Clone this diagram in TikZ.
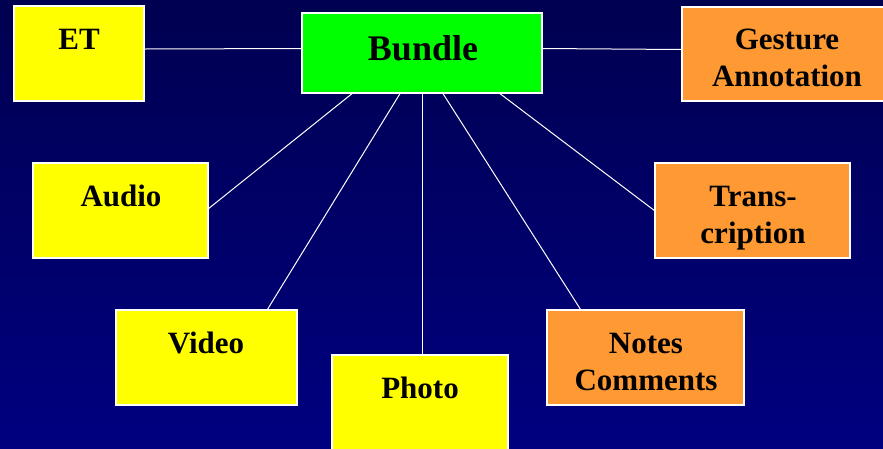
\documentclass[tikz,border=0pt]{standalone}
\usepackage{fontspec}
\setmainfont{Liberation Serif}
\definecolor{bgtop}{RGB}{0,0,80}
\definecolor{bgbottom}{RGB}{0,0,128}
\definecolor{mediayellow}{RGB}{255,255,0}
\definecolor{bundlegreen}{RGB}{0,255,0}
\definecolor{annotorange}{RGB}{255,153,51}
\tikzset{
  box/.style={draw=white, line width=1.3pt, inner sep=0pt, minimum height=95pt},
  media/.style={box, fill=mediayellow},
  annot/.style={box, fill=annotorange},
  txt/.style={anchor=base, inner sep=0pt, align=center, font=\fontsize{31}{37}\selectfont\bfseries},
  link/.style={draw=white, line width=1pt}
}
\begin{document}
\begin{tikzpicture}[x=1pt,y=1pt,yscale=-1,xscale=1]
\useasboundingbox (0,0) rectangle (883,448);
%Background
\shade[top color=bgtop, bottom color=bgbottom] (0,0) rectangle (883,448);

%Boxes
\node[box, fill=bundlegreen, minimum width=240pt, minimum height=80pt] (bundle) at (422,53) {};
\node[media, minimum width=130pt] (et) at (79,53.5) {};
\node[annot, minimum width=210pt, minimum height=94pt] (gesture) at (787,54) {};
\node[media, minimum width=175pt] (audio) at (120.5,210.5) {};
\node[annot, minimum width=195pt] (trans) at (752.5,210.5) {};
\node[media, minimum width=181pt] (video) at (206.5,357.5) {};
\node[media, minimum width=176pt] (photo) at (420,402.5) {};
\node[annot, minimum width=197pt] (notes) at (645.5,357.5) {};

%Straight Lines
\draw[link] ([yshift=-4.5pt]et.east) -- ([yshift=-4.5pt]bundle.west);
\draw[link] ([yshift=-4.5pt]bundle.east) -- ([yshift=-4.5pt]gesture.west);
\draw[link] ([xshift=-70pt]bundle.south) -- ([yshift=-2pt]audio.east);
\draw[link] ([xshift=-22pt]bundle.south) -- ([xshift=61pt]video.north);
\draw[link] (bundle.south) -- ([xshift=2pt]photo.north);
\draw[link] ([xshift=21pt]bundle.south) -- ([xshift=-65pt]notes.north);
\draw[link] ([xshift=78pt]bundle.south) -- (trans.west);

% Text Node
\node[txt, font=\fontsize{36}{40}\selectfont\bfseries] (bundle-t) at (423,60) {Bundle};
\node[txt] (et-t) at (79,49) {ET};
\node[txt] (gesture-t) at (787,86) {Gesture\\Annotation};
\node[txt] (audio-t) at (121,206) {Audio};
\node[txt] (trans-t) at (753,243) {Trans-\\cription};
\node[txt] (video-t) at (206,353) {Video};
\node[txt] (photo-t) at (420,398) {Photo};
\node[txt] (notes-t) at (646,390) {Notes\\Comments};

\end{tikzpicture}
\end{document}
